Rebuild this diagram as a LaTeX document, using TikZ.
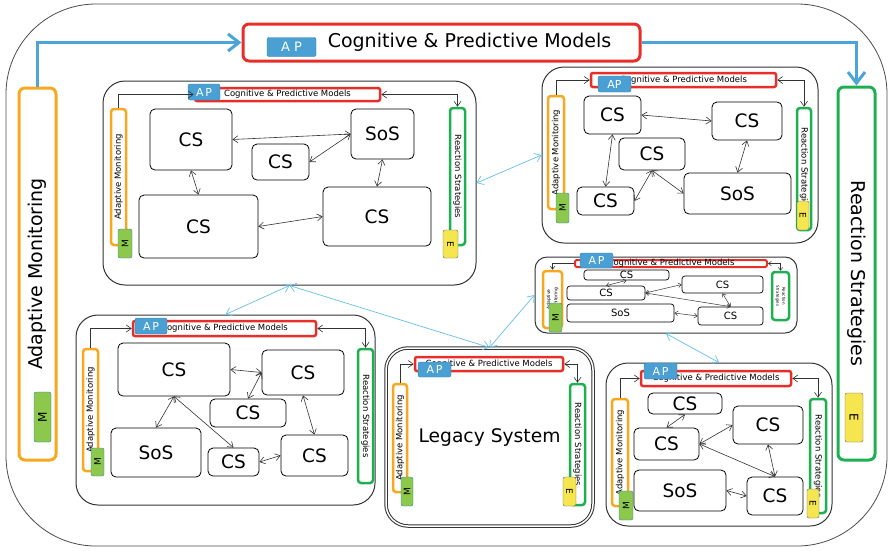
\documentclass[tikz,border=0pt]{standalone}
\usepackage{fontspec}
\setmainfont{DejaVu Sans}
\usepackage{graphicx}
\usetikzlibrary{arrows.meta,positioning}

\definecolor{cpmred}{RGB}{232,46,40}
\definecolor{amorange}{RGB}{247,168,30}
\definecolor{rsgreen}{RGB}{30,176,80}
\definecolor{apblue}{RGB}{74,160,210}
\definecolor{apedge}{RGB}{45,125,190}
\definecolor{mgreen}{RGB}{140,200,75}
\definecolor{eyellow}{RGB}{245,230,80}
\definecolor{arrowblue}{RGB}{75,165,215}
\definecolor{linkblue}{RGB}{100,190,235}

\begin{document}
\begin{tikzpicture}[x=1pt,y=-1pt,>={Straight Barb[length=5pt,width=7pt]},
  every node/.style={inner sep=0pt},
  wh/.style 2 args={minimum width=#1pt,minimum height=#2pt},
  sys/.style={draw=black!80,line width=1pt,rounded corners=22pt},
  cs/.style={draw,line width=0.8pt,rounded corners=5pt,font=\fontsize{18.5}{20}\selectfont},
  css/.style={draw,line width=0.7pt,rounded corners=3pt,font=\fontsize{10}{10}\selectfont},
  cpm/.style={draw=cpmred,line width=2.5pt,rounded corners=2pt,fill=white,font=\fontsize{8.5}{9}\selectfont},
  am/.style={draw=amorange,line width=2.5pt,rounded corners=3pt,fill=white,font=\fontsize{8.5}{9}\selectfont},
  rs/.style={draw=rsgreen,line width=2.5pt,rounded corners=3pt,fill=white,font=\fontsize{8.5}{9}\selectfont},
  ap/.style={draw=apedge,fill=apblue,rounded corners=2pt,text=white,font=\fontsize{11}{11}\selectfont},
  mon/.style={draw=apedge,fill=mgreen,rounded corners=2pt,font=\fontsize{9}{9}\selectfont},
  eff/.style={draw=black!60,fill=eyellow,rounded corners=2pt,font=\fontsize{9}{9}\selectfont},
  feed/.style={->,line width=0.6pt,black!80},
  conn/.style={<->,line width=0.6pt,black!80},
  connsm/.style={line width=0.5pt,black!80,{Straight Barb[length=3pt,width=4.5pt]}-{Straight Barb[length=3pt,width=4.5pt]}},
  flow/.style={arrowblue,line width=3pt,-{Straight Barb[length=11pt,width=17pt]}},
  link/.style={linkblue,line width=0.7pt,{Straight Barb[length=6pt,width=9pt]}-{Straight Barb[length=6pt,width=9pt]}}]

\useasboundingbox (0,0) rectangle (890,550);
\draw[black!70,line width=0.8pt,rounded corners=90pt] (6,4) rectangle (887,546);

% top level
\node[draw=cpmred,line width=3pt,rounded corners=6pt,fill=white,wh={397}{37},font=\fontsize{19}{20}\selectfont] (cpm0) at (441.5,42.5) {\hspace*{56pt}Cognitive \& Predictive Models};
\node[ap,wh={49}{19},font=\fontsize{13}{13}\selectfont] (ap0) at (291.5,47) {A P};
\node[am,line width=3pt,rounded corners=6pt,wh={37}{372},font=\fontsize{19}{20}\selectfont] (am0) at (37.5,274) {\rotatebox{90}{Adaptive Monitoring}};
\node[mon,wh={17}{50},font=\fontsize{12}{12}\selectfont] (mn0) at (42.5,417) {\rotatebox{90}{M}};
\node[rs,line width=3pt,rounded corners=6pt,wh={37}{373},font=\fontsize{19}{20}\selectfont] (rs0) at (856.5,273.5) {\rotatebox{-90}{Reaction Strategies}};
\node[eff,wh={18}{49},font=\fontsize{12}{12}\selectfont] (rx0) at (854,417.5) {\rotatebox{-90}{E}};
\draw[flow] (am0.north) |- (cpm0.west);
\draw[flow] (cpm0.east) -| (rs0.north);

% system A
\node[sys,wh={373}{204}] (sysA) at (289.5,183) {};
\node[cpm,wh={185}{13}] (cpmA) at (287.5,94.5) {Cognitive \& Predictive Models};
\node[ap,wh={32}{16}] (apA) at (204,92) {A\,P};
\node[am,wh={15}{136}] (amA) at (118.5,177) {\rotatebox{90}{Adaptive Monitoring}};
\node[mon,wh={14}{29}] (mnA) at (125,243.5) {\rotatebox{90}{M}};
\node[rs,wh={15}{137}] (rsA) at (457.5,176.5) {\rotatebox{-90}{Reaction Strategies}};
\node[eff,wh={15}{28}] (rxA) at (450.5,244) {\rotatebox{-90}{E}};
\node[cs,wh={82}{61}] (csA1) at (191,139.5) {CS};
\node[cs,wh={57}{36}] (csA2) at (280.5,162) {CS};
\node[cs,wh={63}{50}] (sosA) at (382.5,134) {SoS};
\node[cs,wh={119}{63}] (csA3) at (198.5,226.5) {CS};
\node[cs,wh={108}{59}] (csA4) at (377,216.5) {CS};
\draw[feed] (amA.north) |- (cpmA.west);
\draw[conn] (cpmA.east) -| (rsA.north);
\draw[conn] (csA1.east) -- (sosA.west);
\draw[conn] (csA2.east) -- (sosA.west);
\draw[conn] (csA1.south) -- (csA3.north);
\draw[conn] (sosA.south) -- (csA4.north);
\draw[conn] (csA3.east) -- (csA4.west);

% system B
\node[sys,wh={276}{176}] (sysB) at (680,155) {};
\node[cpm,wh={185}{14}] (cpmB) at (683.5,80) {Cognitive \& Predictive Models};
\node[ap,wh={33}{16}] (apB) at (614.5,84) {AP};
\node[am,wh={16}{113}] (amB) at (556,152.5) {\rotatebox{90}{Adaptive Monitoring}};
\node[mon,wh={13}{30}] (mnB) at (562.5,208) {\rotatebox{90}{M}};
\node[rs,wh={14}{122}] (rsB) at (804,169) {\rotatebox{-90}{Reaction Strategies}};
\node[eff,wh={12}{29}] (rxB) at (803,215.5) {\rotatebox{-90}{E}};
\node[cs,wh={57}{38}] (csB1) at (612.5,115) {CS};
\node[cs,wh={70}{38}] (csB2) at (747,121) {CS};
\node[cs,wh={66}{32}] (csB3) at (652,154) {CS};
\node[cs,wh={57}{28}] (csB4) at (605.5,201) {CS};
\node[cs,wh={107}{41}] (sosB) at (737.5,193.5) {SoS};
\draw[feed] (amB.north) |- (cpmB.west);
\draw[conn] (cpmB.east) -| (rsB.north);
\draw[conn] (csB1.east) -- (csB2.west);
\draw[conn] (csB1.south) -- (csB4.north);
\draw[conn] (csB3.south) -- (csB4.east);
\draw[conn] (csB3.south) -- (sosB.west);
\draw[conn] (csB2.south) -- (sosB.north);

% system C
\node[sys,wh={299}{190}] (sysC) at (225.5,410) {};
\node[cpm,wh={183}{15}] (cpmC) at (224.5,328.5) {Cognitive \& Predictive Models};
\node[ap,wh={32}{16}] (apC) at (151,326) {A\,P};
\node[am,wh={15}{122}] (amC) at (90.5,410) {\rotatebox{90}{Adaptive Monitoring}};
\node[mon,wh={13}{28}] (mnC) at (97.5,462) {\rotatebox{90}{M}};
\node[rs,wh={15}{134}] (rsC) at (365.5,416) {\rotatebox{-90}{Reaction Strategies}};
\node[cs,wh={112}{53}] (csC1) at (174,369.5) {CS};
\node[cs,wh={82}{45}] (csC2) at (303,372.5) {CS};
\node[cs,wh={76}{28}] (csC3) at (248,413) {CS};
\node[cs,wh={90}{49}] (sosC) at (156,452.5) {SoS};
\node[cs,wh={51}{28}] (csC4) at (233.5,462) {CS};
\node[cs,wh={67}{41}] (csC5) at (314.5,455.5) {CS};
\draw[feed] (amC.north) |- (cpmC.west);
\draw[conn] (cpmC.east) -| (rsC.north);
\draw[conn] (csC1.east) -- (csC2.west);
\draw[conn] (csC2.west) -- (csC3.north);
\draw[conn] (csC1.south) -- (sosC.north);
\draw[conn] (csC1.south) -- (csC4.north);
\draw[conn] (csC2.south) -- (csC5.north);
\draw[conn] (csC4.east) -- (csC5.west);

% legacy system
\node[sys,double,double distance=1.5pt,wh={207}{178},font=\fontsize{18.7}{20}\selectfont] (sysD) at (489.5,437) {Legacy System};
\node[cpm,wh={148}{14}] (cpmD) at (489,364) {Cognitive \& Predictive Models};
\node[ap,wh={33}{15}] (apD) at (434.5,369.5) {A\,P};
\node[am,wh={14}{108}] (amD) at (400,438) {\rotatebox{90}{Adaptive Monitoring}};
\node[mon,wh={12}{29}] (mnD) at (407,491.5) {\rotatebox{90}{M}};
\node[rs,wh={15}{121}] (rsD) at (577.5,444.5) {\rotatebox{-90}{Reaction Strategies}};
\node[eff,wh={13}{29}] (rxD) at (569.5,491.5) {\rotatebox{-90}{E}};
\draw[feed] (amD.north) |- (cpmD.west);
\draw[conn] (cpmD.east) -| (rsD.north);

% system E
\node[sys,rounded corners=12pt,wh={262}{76}] (sysE) at (666,295) {};
\node[cpm,line width=2pt,wh={192}{7},text height=4pt,text depth=0pt] (cpmE) at (671,263.5) {Cognitive \& Predictive Models};
\node[ap,wh={33}{15}] (apE) at (596.5,260.5) {A\,P};
\node[am,wh={19}{57},font=\fontsize{4.5}{5}\selectfont] (amE) at (552.5,299.5) {\rotatebox{90}{\shortstack{Adaptive\\Monitoring}}};
\node[mon,wh={13}{29}] (mnE) at (555.5,317.5) {\rotatebox{90}{M}};
\node[rs,wh={17}{48},font=\fontsize{4}{4.5}\selectfont] (rsE) at (780.5,296) {\rotatebox{-90}{\shortstack{Reaction\\Strategies}}};
\node[css,wh={85}{10}] (csE1) at (626.5,275) {CS};
\node[css,wh={78}{14}] (csE2) at (606,293) {CS};
\node[css,wh={81}{17}] (csE3) at (722.5,284.5) {CS};
\node[css,wh={107}{18}] (sosE) at (620.5,313) {SoS};
\node[css,wh={65}{18}] (csE4) at (730.5,316) {CS};
\draw[feed,{Straight Barb[length=3pt,width=4.5pt]}-] (amE.north) |- (cpmE.west);
\draw[connsm] (cpmE.east) -| (rsE.north);
\draw[connsm] (csE1.south) -- (csE2.north);
\draw[connsm] (csE2.east) -- (csE3.west);
\draw[connsm] (csE2.east) -- (csE4.north);
\draw[connsm] (csE3.south) -- (csE4.north);
\draw[connsm] (sosE.east) -- (csE4.west);

% system F
\node[sys,wh={226}{163}] (sysF) at (719,444.5) {};
\node[cpm,wh={150}{15}] (cpmF) at (716,378.5) {Cognitive \& Predictive Models};
\node[ap,wh={33}{16}] (apF) at (660.5,371) {A\,P};
\node[am,wh={16}{107}] (amF) at (620,452.5) {\rotatebox{90}{Adaptive Monitoring}};
\node[mon,wh={14}{29}] (mnF) at (626,505.5) {\rotatebox{90}{M}};
\node[rs,wh={16}{114}] (rsF) at (818,456) {\rotatebox{-90}{Reaction Strategies}};
\node[eff,wh={12}{29}] (rxF) at (813,503.5) {\rotatebox{-90}{E}};
\node[cs,wh={74}{21}] (csF1) at (685,403.5) {CS};
\node[cs,wh={65}{32}] (csF2) at (666.5,444) {CS};
\node[cs,wh={70}{38}] (csF3) at (768,425) {CS};
\node[cs,wh={92}{41}] (sosF) at (680,490.5) {SoS};
\node[cs,wh={56}{38}] (csF4) at (775,496) {CS};
\draw[feed] (amF.north) |- (cpmF.west);
\draw[conn] (cpmF.east) -| (rsF.north);
\draw[conn] (csF1.south) -- (csF2.north);
\draw[conn] (csF2.east) -- (csF3.west);
\draw[conn] (csF2.east) -- (csF4.north);
\draw[conn] (csF3.south) -- (csF4.north);
\draw[conn] (sosF.east) -- (csF4.west);

% links between systems
\draw[link] (sysA.east) -- (sysB.west);
\draw[link] (sysA.south) -- (sysC.north);
\draw[link] (sysA.south) -- (sysD.north);
\draw[link] (sysD.north) -- (sysE.west);
\draw[link] (sysE.south) -- (sysF.north);
\end{tikzpicture}
\end{document}
